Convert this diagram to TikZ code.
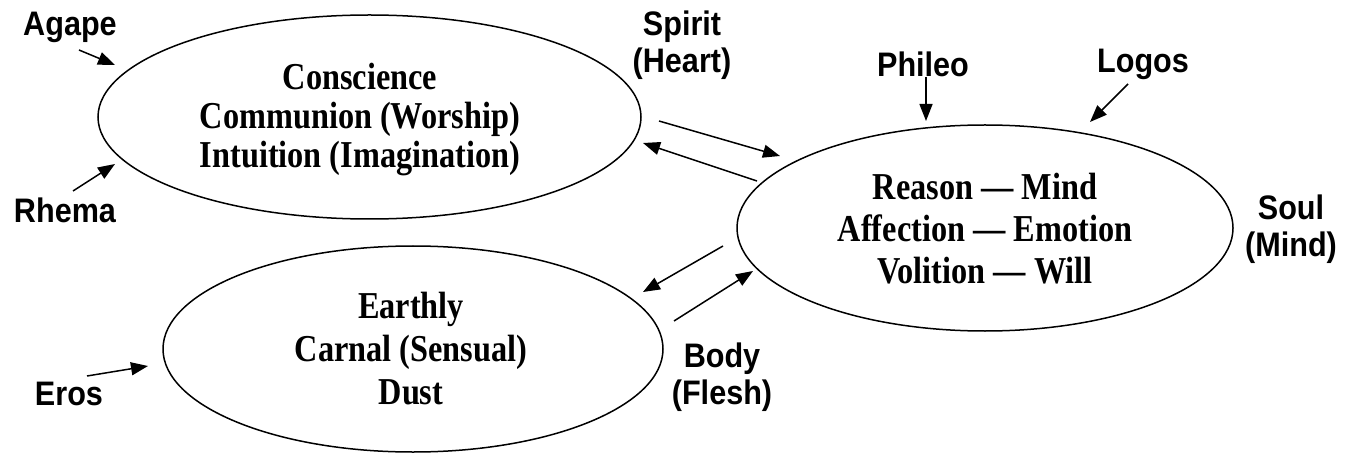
\documentclass[tikz,border=0pt]{standalone}
\usepackage{fontspec}
\usetikzlibrary{arrows.meta,shapes.geometric}
\newfontfamily\lblfamily{Liberation Sans}[FakeStretch=0.9]
\newfontfamily\txtfamily{Liberation Serif}[FakeStretch=0.85]
\begin{document}
\begin{tikzpicture}[x=1pt,y=-1pt,
  oval/.style={draw,ellipse,line width=1.5pt,inner sep=0pt},
  lbl/.style={align=center,font=\lblfamily\bfseries\fontsize{34}{37}\selectfont,inner sep=0pt},
  inner/.style={align=center,font=\txtfamily\bfseries\fontsize{38}{#1}\selectfont,inner sep=0pt},
  arr/.style={line width=1.5pt,-{Triangle[length=17pt,width=13pt]}}]
\useasboundingbox (0,0) rectangle (1356,454);
% ellipses
\node[oval,minimum width=543pt,minimum height=204pt] (spiritE) at (369.5,117) {};
\node[oval,minimum width=496pt,minimum height=206pt] (soulE) at (985,228) {};
\node[oval,minimum width=500pt,minimum height=206pt] (bodyE) at (413,349) {};
% inner texts
\node[inner=39] (spiritT) at (360,120) {Conscience\\Communion (Worship)\\Intuition (Imagination)};
\node[inner=42] (soulT) at (985,229) {Reason — Mind\\Affection — Emotion\\Volition — Will};
\node[inner=43] (bodyT) at (411,349) {Earthly\\Carnal (Sensual)\\Dust};
% labels
\node[lbl] (agape) at (70,27) {Agape};
\node[lbl] (rhema) at (65,210) {Rhema};
\node[lbl] (eros) at (69,394) {Eros};
\node[lbl] (phileo) at (923,64) {Phileo};
\node[lbl] (logos) at (1143,64) {Logos};
\node[lbl] (spiritL) at (682,45) {Spirit\\(Heart)};
\node[lbl] (soulL) at (1291,229) {Soul\\(Mind)};
\node[lbl] (bodyL) at (722,377) {Body\\(Flesh)};
% arrow end points
\coordinate (agA) at (79,50);   \coordinate (agB) at (115,65);
\coordinate (rhA) at (73,191);  \coordinate (rhB) at (115,164);
\coordinate (erA) at (87,376);  \coordinate (erB) at (148,366);
\coordinate (phA) at (926,77);  \coordinate (phB) at (926,121);
\coordinate (loA) at (1128,84); \coordinate (loB) at (1090,122);
\coordinate (s1A) at (659,121); \coordinate (s1B) at (780,156);
\coordinate (s2A) at (757,181); \coordinate (s2B) at (643,143);
\coordinate (b1A) at (723,246); \coordinate (b1B) at (643,292);
\coordinate (b2A) at (674,321); \coordinate (b2B) at (753,271);
% arrows
\draw[arr] (agA) -- (agB);
\draw[arr] (rhA) -- (rhB);
\draw[arr] (erA) -- (erB);
\draw[arr] (phA) -- (phB);
\draw[arr] (loA) -- (loB);
\draw[arr] (s1A) -- (s1B);
\draw[arr] (s2A) -- (s2B);
\draw[arr] (b1A) -- (b1B);
\draw[arr] (b2A) -- (b2B);
\end{tikzpicture}
\end{document}
